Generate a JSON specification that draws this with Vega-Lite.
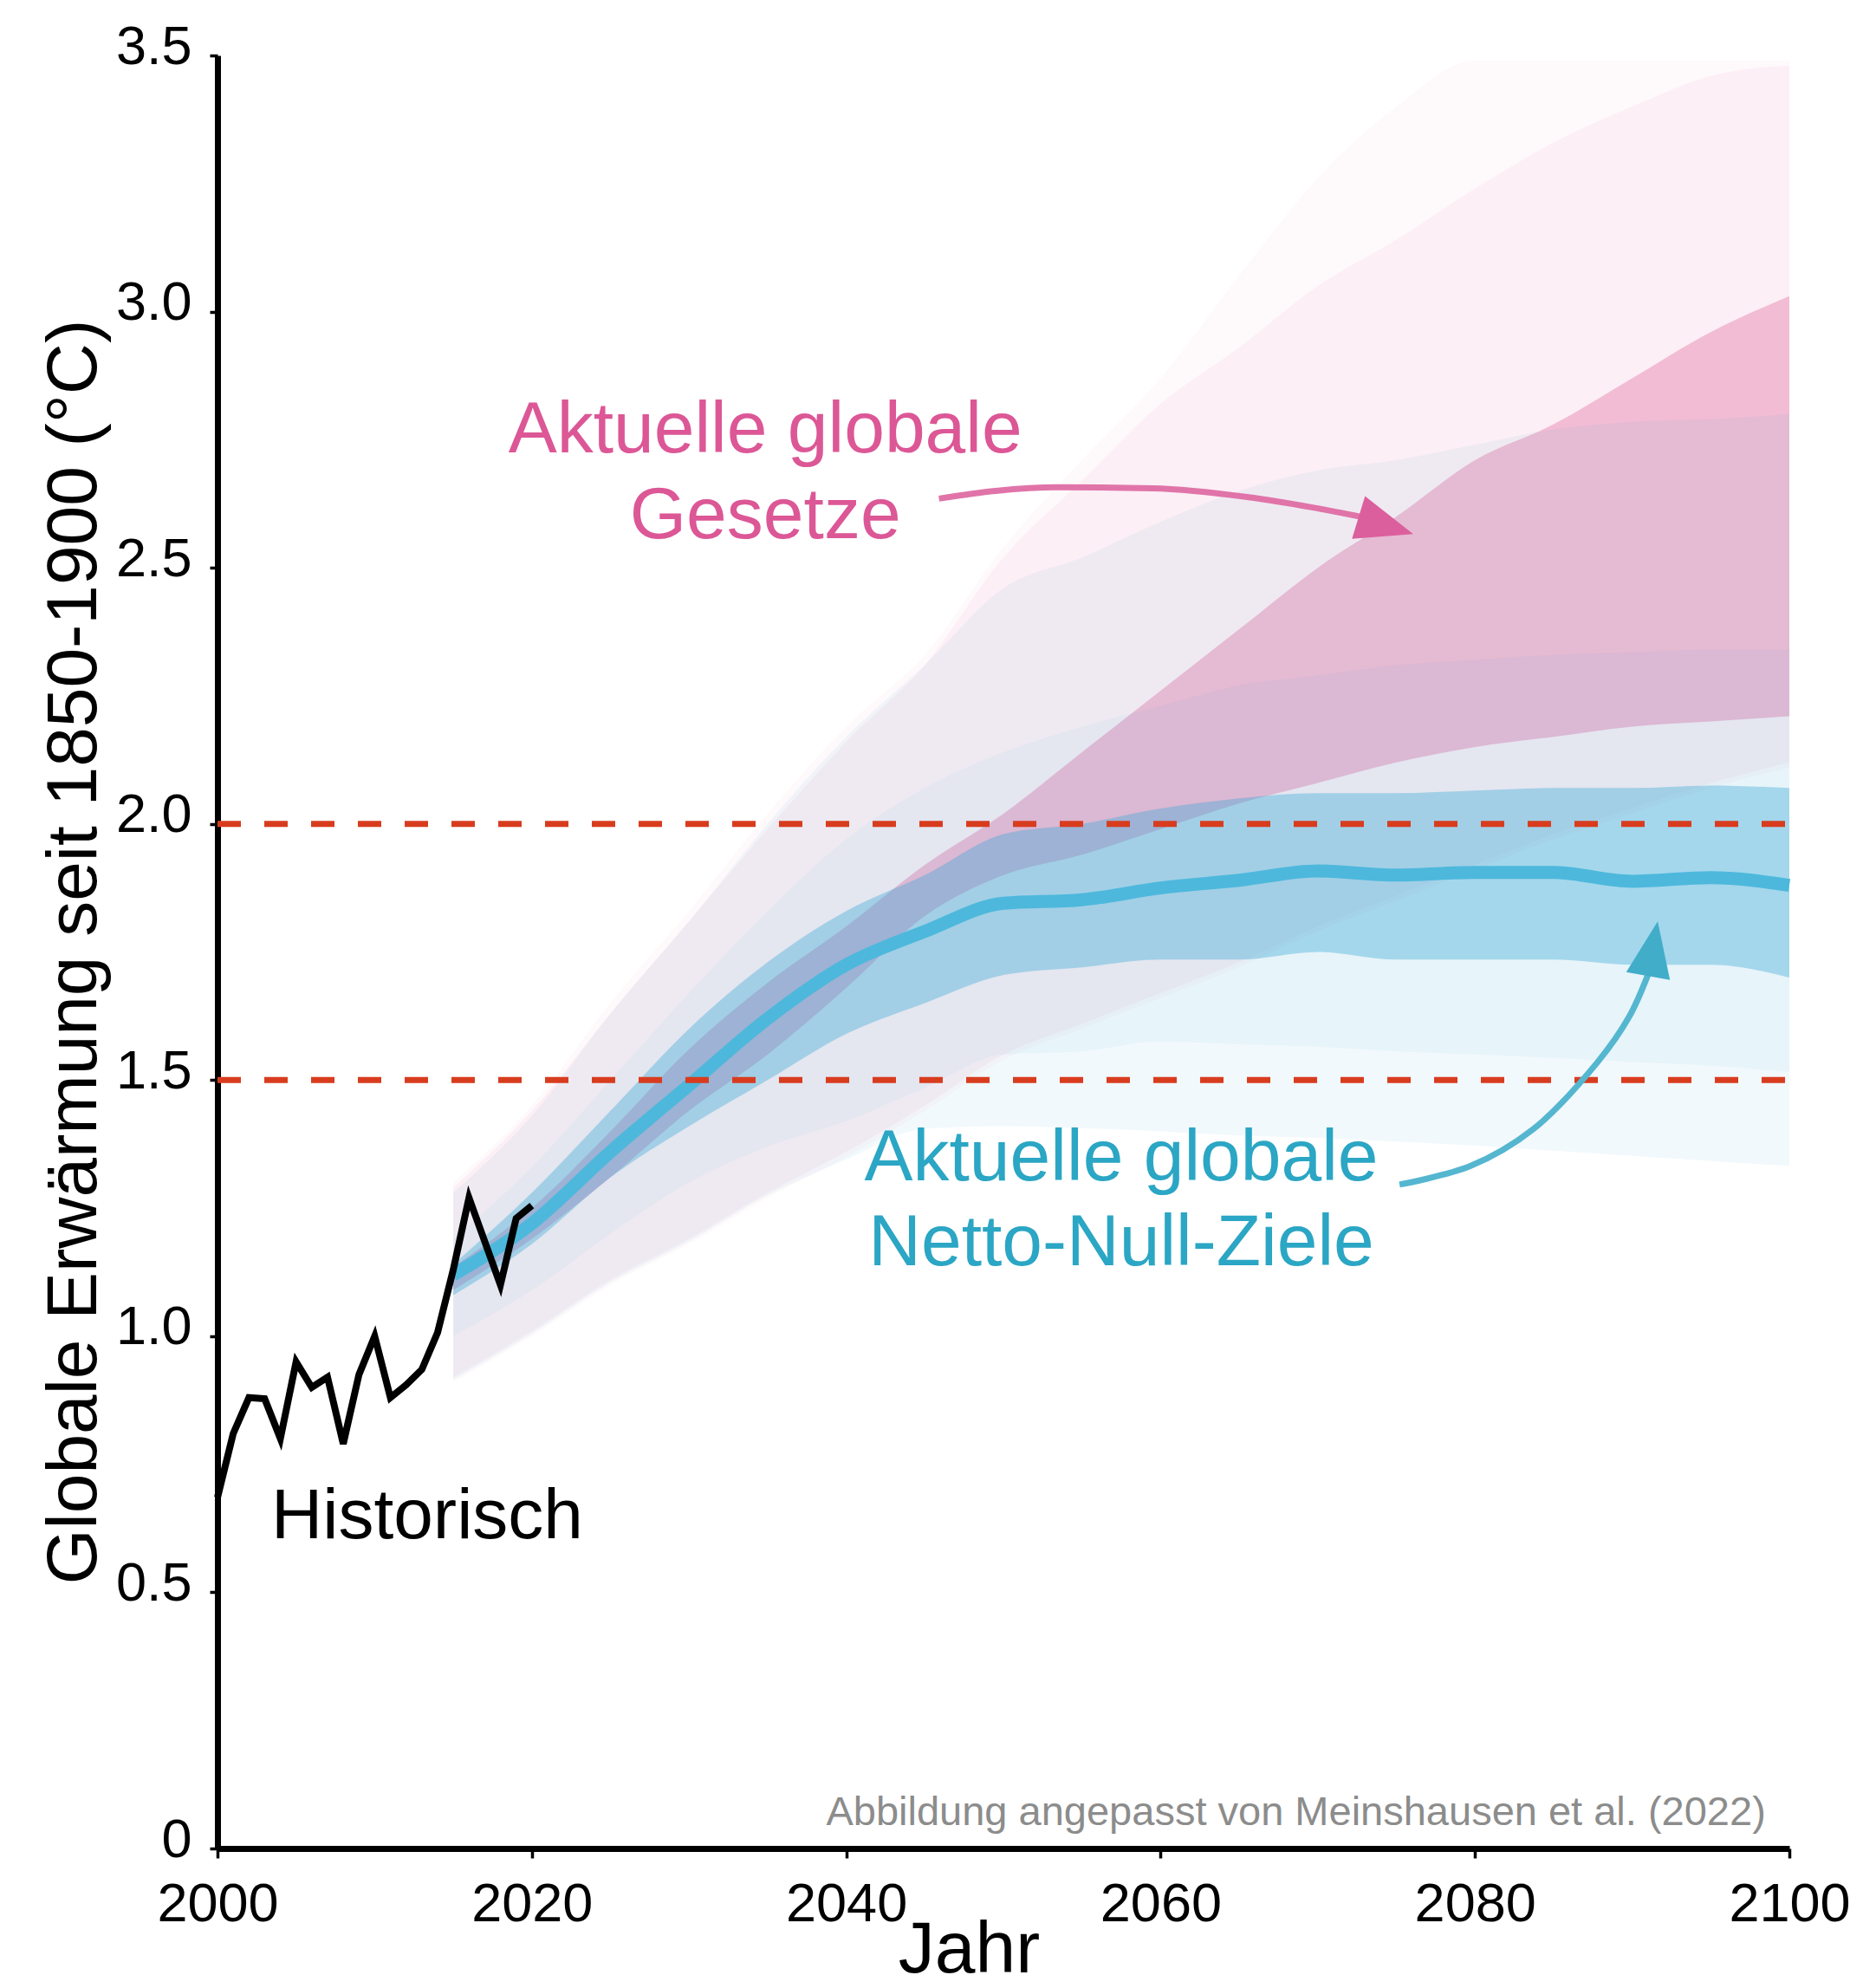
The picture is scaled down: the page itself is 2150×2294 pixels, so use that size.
{
  "$schema": "https://vega.github.io/schema/vega-lite/v6.json",
  "width": 1814,
  "height": 2069,
  "autosize": {"type": "none"},
  "padding": {"left": 251, "top": 64, "right": 85, "bottom": 161},
  "background": "white",
  "config": {
    "view": {"stroke": null},
    "font": "Liberation Sans",
    "axis": {
      "grid": false,
      "domainColor": "black",
      "domainWidth": 7,
      "tickColor": "black",
      "tickWidth": 3.5,
      "labelFont": "Liberation Sans",
      "labelFontSize": 63,
      "labelColor": "black",
      "titleFont": "Liberation Sans",
      "titleFontWeight": "normal",
      "titleColor": "black",
      "labelFlush": false,
      "labelOverlap": false
    }
  },
  "datasets": {
    "bands": [
      {"year": 2015, "p1lo": 0.91, "p1hi": 1.30, "p2lo": 0.92, "p2hi": 1.29, "p3lo": 1.09, "p3hi": 1.135, "b1lo": 0.915, "b1hi": 1.28, "b2lo": 1.00, "b2hi": 1.19, "b3lo": 1.08, "b3hi": 1.14, "med": 1.12},
      {"year": 2020, "p1lo": 1.00, "p1hi": 1.45, "p2lo": 1.01, "p2hi": 1.44, "p3lo": 1.19, "p3hi": 1.25, "b1lo": 1.005, "b1hi": 1.43, "b2lo": 1.09, "b2hi": 1.33, "b3lo": 1.18, "b3hi": 1.28, "med": 1.22},
      {"year": 2025, "p1lo": 1.10, "p1hi": 1.65, "p2lo": 1.11, "p2hi": 1.63, "p3lo": 1.31, "p3hi": 1.40, "b1lo": 1.105, "b1hi": 1.63, "b2lo": 1.20, "b2hi": 1.50, "b3lo": 1.31, "b3hi": 1.44, "med": 1.36},
      {"year": 2030, "p1lo": 1.18, "p1hi": 1.83, "p2lo": 1.19, "p2hi": 1.81, "p3lo": 1.44, "p3hi": 1.56, "b1lo": 1.185, "b1hi": 1.81, "b2lo": 1.30, "b2hi": 1.67, "b3lo": 1.41, "b3hi": 1.60, "med": 1.49},
      {"year": 2035, "p1lo": 1.27, "p1hi": 2.02, "p2lo": 1.28, "p2hi": 1.99, "p3lo": 1.55, "p3hi": 1.69, "b1lo": 1.275, "b1hi": 2.00, "b2lo": 1.37, "b2hi": 1.83, "b3lo": 1.50, "b3hi": 1.73, "med": 1.62},
      {"year": 2040, "p1lo": 1.35, "p1hi": 2.19, "p2lo": 1.36, "p2hi": 2.16, "p3lo": 1.68, "p3hi": 1.80, "b1lo": 1.345, "b1hi": 2.17, "b2lo": 1.42, "b2hi": 1.97, "b3lo": 1.59, "b3hi": 1.83, "med": 1.725},
      {"year": 2045, "p1lo": 1.44, "p1hi": 2.33, "p2lo": 1.45, "p2hi": 2.31, "p3lo": 1.82, "p3hi": 1.92, "b1lo": 1.405, "b1hi": 2.31, "b2lo": 1.485, "b2hi": 2.07, "b3lo": 1.65, "b3hi": 1.90, "med": 1.79},
      {"year": 2050, "p1lo": 1.54, "p1hi": 2.54, "p2lo": 1.55, "p2hi": 2.52, "p3lo": 1.90, "p3hi": 2.02, "b1lo": 1.41, "b1hi": 2.46, "b2lo": 1.55, "b2hi": 2.14, "b3lo": 1.705, "b3hi": 1.98, "med": 1.845},
      {"year": 2055, "p1lo": 1.60, "p1hi": 2.71, "p2lo": 1.61, "p2hi": 2.67, "p3lo": 1.94, "p3hi": 2.14, "b1lo": 1.406, "b1hi": 2.52, "b2lo": 1.556, "b2hi": 2.19, "b3lo": 1.72, "b3hi": 2.00, "med": 1.852},
      {"year": 2060, "p1lo": 1.66, "p1hi": 2.87, "p2lo": 1.67, "p2hi": 2.82, "p3lo": 1.99, "p3hi": 2.26, "b1lo": 1.40, "b1hi": 2.59, "b2lo": 1.575, "b2hi": 2.23, "b3lo": 1.735, "b3hi": 2.03, "med": 1.875},
      {"year": 2065, "p1lo": 1.72, "p1hi": 3.07, "p2lo": 1.73, "p2hi": 2.93, "p3lo": 2.04, "p3hi": 2.38, "b1lo": 1.392, "b1hi": 2.65, "b2lo": 1.57, "b2hi": 2.27, "b3lo": 1.735, "b3hi": 2.05, "med": 1.89},
      {"year": 2070, "p1lo": 1.79, "p1hi": 3.26, "p2lo": 1.80, "p2hi": 3.05, "p3lo": 2.08, "p3hi": 2.50, "b1lo": 1.387, "b1hi": 2.69, "b2lo": 1.565, "b2hi": 2.29, "b3lo": 1.75, "b3hi": 2.06, "med": 1.908},
      {"year": 2075, "p1lo": 1.85, "p1hi": 3.40, "p2lo": 1.86, "p2hi": 3.14, "p3lo": 2.12, "p3hi": 2.60, "b1lo": 1.38, "b1hi": 2.71, "b2lo": 1.556, "b2hi": 2.31, "b3lo": 1.735, "b3hi": 2.06, "med": 1.90},
      {"year": 2080, "p1lo": 1.91, "p1hi": 3.49, "p2lo": 1.92, "p2hi": 3.24, "p3lo": 2.15, "p3hi": 2.71, "b1lo": 1.372, "b1hi": 2.74, "b2lo": 1.55, "b2hi": 2.32, "b3lo": 1.735, "b3hi": 2.065, "med": 1.905},
      {"year": 2085, "p1lo": 1.97, "p1hi": 3.49, "p2lo": 1.98, "p2hi": 3.33, "p3lo": 2.17, "p3hi": 2.78, "b1lo": 1.362, "b1hi": 2.77, "b2lo": 1.543, "b2hi": 2.33, "b3lo": 1.735, "b3hi": 2.07, "med": 1.905},
      {"year": 2090, "p1lo": 2.02, "p1hi": 3.49, "p2lo": 2.03, "p2hi": 3.40, "p3lo": 2.19, "p3hi": 2.87, "b1lo": 1.352, "b1hi": 2.785, "b2lo": 1.535, "b2hi": 2.335, "b3lo": 1.725, "b3hi": 2.07, "med": 1.888},
      {"year": 2095, "p1lo": 2.07, "p1hi": 3.49, "p2lo": 2.08, "p2hi": 3.46, "p3lo": 2.20, "p3hi": 2.96, "b1lo": 1.342, "b1hi": 2.79, "b2lo": 1.528, "b2hi": 2.34, "b3lo": 1.725, "b3hi": 2.075, "med": 1.895},
      {"year": 2100, "p1lo": 2.11, "p1hi": 3.49, "p2lo": 2.12, "p2hi": 3.48, "p3lo": 2.21, "p3hi": 3.03, "b1lo": 1.332, "b1hi": 2.80, "b2lo": 1.516, "b2hi": 2.34, "b3lo": 1.70, "b3hi": 2.07, "med": 1.88}
    ],
    "historic": [
      {"year": 2000, "temp": 0.685}, {"year": 2001, "temp": 0.81}, {"year": 2002, "temp": 0.88},
      {"year": 2003, "temp": 0.878}, {"year": 2004, "temp": 0.80}, {"year": 2005, "temp": 0.95},
      {"year": 2006, "temp": 0.90}, {"year": 2007, "temp": 0.92}, {"year": 2008, "temp": 0.79},
      {"year": 2009, "temp": 0.925}, {"year": 2010, "temp": 1.00}, {"year": 2011, "temp": 0.88},
      {"year": 2012, "temp": 0.905}, {"year": 2013, "temp": 0.935}, {"year": 2014, "temp": 1.007},
      {"year": 2015, "temp": 1.13}, {"year": 2016, "temp": 1.27}, {"year": 2017, "temp": 1.185},
      {"year": 2018, "temp": 1.10}, {"year": 2019, "temp": 1.23}, {"year": 2020, "temp": 1.255}
    ]
  },
  "encoding": {
    "x": {
      "field": "year",
      "type": "quantitative",
      "scale": {"domain": [2000, 2100], "nice": false, "zero": false},
      "axis": {
        "values": [2000, 2020, 2040, 2060, 2080, 2100],
        "format": "d",
        "tickSize": 11,
        "labelPadding": 22,
        "title": "Jahr",
        "titleFontSize": 84,
        "titleBaseline": "alphabetic",
        "titleX": 867,
        "titleY": 142
      }
    }
  },
  "layer": [
    {
      "data": {"name": "bands"},
      "mark": {"type": "area", "color": "#de5a96", "opacity": 0.035, "interpolate": "monotone"},
      "encoding": {
        "y": {
          "field": "p1lo",
          "type": "quantitative",
          "scale": {"domain": [0, 3.5], "nice": false},
          "axis": {
            "values": [0, 0.5, 1, 1.5, 2, 2.5, 3, 3.5],
            "labelExpr": "datum.value == 0 ? '0' : format(datum.value, '.1f')",
            "tickSize": 9,
            "labelPadding": 21,
            "labelOffset": -10,
            "title": "Globale Erwärmung seit 1850-1900 (°C)",
            "titleFontSize": 82,
            "titleBaseline": "alphabetic",
            "titleAngle": 270,
            "titleX": -141,
            "titleY": 1034
          }
        },
        "y2": {"field": "p1hi"}
      }
    },
    {
      "data": {"name": "bands"},
      "mark": {"type": "area", "color": "#de5a96", "opacity": 0.058, "interpolate": "monotone"},
      "encoding": {"y": {"field": "p2lo", "type": "quantitative"}, "y2": {"field": "p2hi"}}
    },
    {
      "data": {"name": "bands"},
      "mark": {"type": "area", "color": "#de5a96", "opacity": 0.34, "interpolate": "monotone"},
      "encoding": {"y": {"field": "p3lo", "type": "quantitative"}, "y2": {"field": "p3hi"}}
    },
    {
      "data": {"name": "bands"},
      "mark": {"type": "area", "color": "#3caad7", "opacity": 0.065, "interpolate": "monotone"},
      "encoding": {"y": {"field": "b1lo", "type": "quantitative"}, "y2": {"field": "b1hi"}}
    },
    {
      "data": {"name": "bands"},
      "mark": {"type": "area", "color": "#3caad7", "opacity": 0.055, "interpolate": "monotone"},
      "encoding": {"y": {"field": "b2lo", "type": "quantitative"}, "y2": {"field": "b2hi"}}
    },
    {
      "data": {"name": "bands"},
      "mark": {"type": "area", "color": "#3caad7", "opacity": 0.39, "interpolate": "monotone"},
      "encoding": {"y": {"field": "b3lo", "type": "quantitative"}, "y2": {"field": "b3hi"}}
    },
    {
      "data": {"name": "bands"},
      "mark": {"type": "line", "color": "#4db8dc", "strokeWidth": 15, "interpolate": "monotone"},
      "encoding": {"y": {"field": "med", "type": "quantitative"}}
    },
    {
      "data": {"values": [{"level": 1.5}, {"level": 2.0}]},
      "mark": {"type": "rule", "color": "#d83c1e", "strokeWidth": 7, "strokeDash": [27, 27]},
      "encoding": {"x": {"value": 0}, "x2": {"value": 1814}, "y": {"field": "level", "type": "quantitative"}}
    },
    {
      "data": {"name": "historic"},
      "mark": {"type": "line", "color": "black", "strokeWidth": 8},
      "encoding": {"y": {"field": "temp", "type": "quantitative"}}
    },
    {
      "data": {"values": [
        {"year": 2034.85, "val": 2.725, "label": "Aktuelle globale"},
        {"year": 2034.85, "val": 2.558, "label": "Gesetze"}
      ]},
      "mark": {"type": "text", "font": "Liberation Sans", "fontSize": 84, "color": "#dc5796", "align": "center", "baseline": "alphabetic"},
      "encoding": {"y": {"field": "val", "type": "quantitative"}, "text": {"field": "label"}}
    },
    {
      "data": {"values": [
        {"year": 2057.5, "val": 1.305, "label": "Aktuelle globale"},
        {"year": 2057.5, "val": 1.138, "label": "Netto-Null-Ziele"}
      ]},
      "mark": {"type": "text", "font": "Liberation Sans", "fontSize": 84, "color": "#2ba6c4", "align": "center", "baseline": "alphabetic"},
      "encoding": {"y": {"field": "val", "type": "quantitative"}, "text": {"field": "label"}}
    },
    {
      "data": {"values": [{"year": 2013.34, "val": 0.605, "label": "Historisch"}]},
      "mark": {"type": "text", "font": "Liberation Sans", "fontSize": 82, "color": "black", "align": "center", "baseline": "alphabetic"},
      "encoding": {"y": {"field": "val", "type": "quantitative"}, "text": {"field": "label"}}
    },
    {
      "data": {"values": [{"year": 2098.5, "val": 0.0457, "label": "Abbildung angepasst von Meinshausen et al. (2022)"}]},
      "mark": {"type": "text", "font": "Liberation Sans", "fontSize": 47, "color": "#8c8c8c", "align": "right", "baseline": "alphabetic"},
      "encoding": {"y": {"field": "val", "type": "quantitative"}, "text": {"field": "label"}}
    },
    {
      "data": {"values": [
        {"year": 2045.9, "val": 2.635},
        {"year": 2049.5, "val": 2.650},
        {"year": 2053.4, "val": 2.657},
        {"year": 2059.5, "val": 2.655},
        {"year": 2065.5, "val": 2.638},
        {"year": 2069.6, "val": 2.618},
        {"year": 2073.3, "val": 2.596}
      ]},
      "mark": {"type": "line", "color": "#e074a9", "strokeWidth": 7, "interpolate": "monotone"},
      "encoding": {"y": {"field": "val", "type": "quantitative"}}
    },
    {
      "data": {"values": [{"year": 2074.33, "val": 2.582}]},
      "mark": {"type": "point", "shape": "M1,0L-1,-0.78L-1,0.78Z", "filled": true, "color": "#db5f9d", "opacity": 1, "size": 4356, "angle": 17},
      "encoding": {"y": {"field": "val", "type": "quantitative"}}
    },
    {
      "data": {"values": [
        {"year": 2075.2, "val": 1.296},
        {"year": 2079.7, "val": 1.332},
        {"year": 2083.7, "val": 1.404},
        {"year": 2087.8, "val": 1.535},
        {"year": 2089.8, "val": 1.623},
        {"year": 2091.0, "val": 1.705}
      ]},
      "mark": {"type": "line", "color": "#55b6d0", "strokeWidth": 7, "interpolate": "catmull-rom"},
      "encoding": {"y": {"field": "val", "type": "quantitative"}}
    },
    {
      "data": {"values": [{"year": 2091.32, "val": 1.7565}]},
      "mark": {"type": "point", "shape": "M1,0L-1,-0.8L-1,0.8Z", "filled": true, "color": "#41adc9", "opacity": 1, "size": 4100, "angle": 280},
      "encoding": {"y": {"field": "val", "type": "quantitative"}}
    }
  ]
}
